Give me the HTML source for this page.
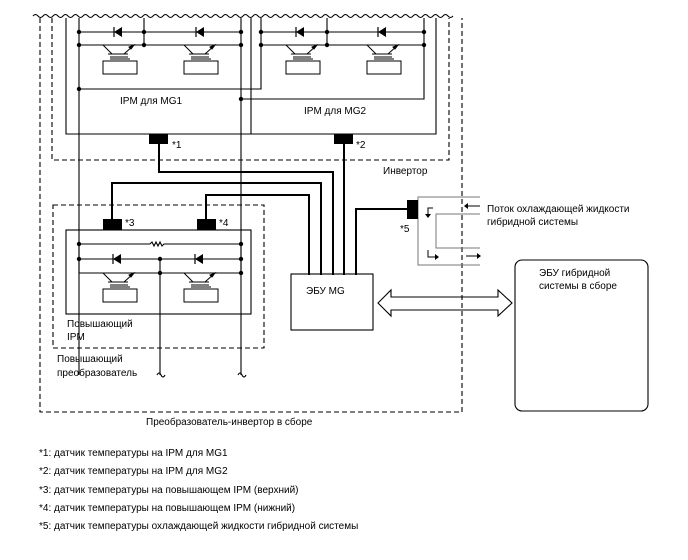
<!DOCTYPE html>
<html><head><meta charset="utf-8"><style>
html,body{margin:0;padding:0;background:#fff}
svg{display:block}
text{font-family:"Liberation Sans",Arial,sans-serif;font-size:10px;fill:#000}
</style></head><body>
<svg width="688" height="560" viewBox="0 0 688 560" xmlns="http://www.w3.org/2000/svg">
<defs>
<g id="tr" fill="none" stroke="#000" stroke-width="1">
 <line x1="-17" y1="0" x2="-8" y2="9"/>
 <line x1="-12" y1="9" x2="8" y2="9"/>
 <line x1="4" y1="9" x2="14" y2="0"/>
 <polygon points="14,0 9,2 11,4" fill="#000"/>
 <line x1="-10" y1="12" x2="8" y2="12"/>
 <line x1="-10" y1="14" x2="10" y2="14"/>
 <rect x="-17" y="16" width="34" height="13"/>
</g>
<g id="di">
 <polygon points="-4,0 4,-5 4,5" fill="#000"/>
 <line x1="-4" y1="-5" x2="-4" y2="5" stroke="#000" stroke-width="1.2"/>
</g>
</defs>
<g fill="none" stroke="#000" stroke-width="1">
<path d="M33,16 q2.5,-3 5,0 t5,0 t5,0 t5,0 t5,0 t5,0 t5,0 t5,0 t5,0 t5,0 t5,0 t5,0 t5,0 t5,0 t5,0 t5,0 t5,0 t5,0 t5,0 t5,0 t5,0 t5,0 t5,0 t5,0 t5,0 t5,0 t5,0 t5,0 t5,0 t5,0 t5,0 t5,0 t5,0 t5,0 t5,0 t5,0 t5,0 t5,0 t5,0 t5,0 t5,0 t5,0 t5,0 t5,0 t5,0 t5,0 t5,0 t5,0 t5,0 t5,0 t5,0 t5,0 t5,0 t5,0 t5,0 t5,0 t5,0 t5,0 t5,0 t5,0 t5,0 t5,0 t5,0 t5,0 t5,0 t5,0 t5,0 t5,0 t5,0 t5,0 t5,0 t5,0 t5,0 t5,0 t5,0 t5,0 t5,0 t5,0 t5,0 t5,0 t5,0 t5,0 t5,0 t5,0"/>
</g>
<g fill="none" stroke="#000" stroke-width="1.1" stroke-dasharray="5,3">
 <path d="M40,18 V412 H462 V18"/>
 <path d="M52,18 V160 H449 V18"/>
 <rect x="53" y="205" width="211" height="143"/>
</g>
<g fill="none" stroke="#000" stroke-width="1.1">
 <path d="M66,18 V134 H436 V18"/>
 <path d="M251,18 V134"/>
 <path d="M79,18 V375"/><path d="M241,18 V375"/>
 <path d="M79,32 H241"/><path d="M79,45 H241"/><path d="M144,18 V45"/>
 <path d="M79,89 H261 V18"/>
 <path d="M261,32 H424"/><path d="M261,45 H424"/><path d="M327,18 V45"/>
 <path d="M241,99 H424 V18"/>
 <path d="M159,144 V172 H333 V275" stroke-width="2"/>
 <path d="M344,144 V275" stroke-width="2"/>
 <path d="M112,220 V183 H321 V275" stroke-width="2"/>
 <path d="M206,220 V195 H309 V275" stroke-width="2"/>
 <path d="M356,275 V209 H408" stroke-width="2"/>
 <rect x="66" y="230" width="185" height="84"/>
 <path d="M79,244 H150 l2,-2 2,4 2,-4 2,4 2,-4 2,4 2,-2 H241"/>
 <path d="M79,244 V273 H241"/><path d="M79,259 H241"/><path d="M241,244 V273"/>
 <path d="M160,259 V375"/>
 <path d="M157,375 q2,-4 4,0 t4,0" /><path d="M238,375 q2,-4 4,0 t4,0"/>
 <rect x="291" y="274" width="82" height="56"/>
 <rect x="515" y="260" width="133" height="151" rx="7"/>
 <path d="M378,303 L391,290 V297 H498 V290 L512,303 L498,316 V310 H391 V316 Z"/>
</g>
<g fill="none" stroke="#777" stroke-width="1">
 <path d="M480,197 H418 V265 H480"/>
 <path d="M480,214 H436 V248 H480"/>
</g>
<g fill="none" stroke="#000" stroke-width="1">
 <path d="M433,208 H428 V215"/><path d="M428,250 V257 H436"/>
 <path d="M468,206 H480"/><path d="M466,256 H478"/>
</g>
<g fill="#000">
 <polygon points="425,214 431,214 428,218"/><polygon points="435,254 435,260 439,257"/>
 <polygon points="464,206 468,203 468,209"/><polygon points="481,256 477,253 477,259"/>
 <rect x="149" y="134" width="19" height="10"/>
 <rect x="334" y="134" width="19" height="10"/>
 <rect x="103" y="219" width="19" height="11"/>
 <rect x="197" y="219" width="19" height="11"/>
 <rect x="407" y="200" width="11" height="19"/>
 <circle cx="79" cy="32" r="2.2"/><circle cx="144" cy="32" r="2.2"/><circle cx="241" cy="32" r="2.2"/>
 <circle cx="79" cy="45" r="2.2"/><circle cx="144" cy="45" r="2.2"/><circle cx="241" cy="45" r="2.2"/>
 <circle cx="261" cy="32" r="2.2"/><circle cx="327" cy="32" r="2.2"/><circle cx="424" cy="32" r="2.2"/>
 <circle cx="261" cy="45" r="2.2"/><circle cx="327" cy="45" r="2.2"/><circle cx="424" cy="45" r="2.2"/>
 <circle cx="79" cy="89" r="2.2"/><circle cx="241" cy="99" r="2.2"/>
 <circle cx="79" cy="244" r="2.2"/><circle cx="241" cy="244" r="2.2"/>
 <circle cx="79" cy="259" r="2.2"/><circle cx="160" cy="259" r="2.2"/><circle cx="241" cy="259" r="2.2"/>
 <circle cx="160" cy="273" r="2.2"/><circle cx="241" cy="273" r="2.2"/>
</g>
<use href="#di" x="118" y="32"/><use href="#di" x="200" y="32"/>
<use href="#di" x="300" y="32"/><use href="#di" x="382" y="32"/>
<use href="#di" x="117" y="259"/><use href="#di" x="199" y="259"/>
<use href="#tr" x="120" y="45"/><use href="#tr" x="201" y="45"/>
<use href="#tr" x="303" y="45"/><use href="#tr" x="384" y="45"/>
<use href="#tr" x="120" y="273"/><use href="#tr" x="201" y="273"/>

<text x="120" y="104">IPM для MG1</text>
<text x="304" y="114">IPM для MG2</text>
<text x="172" y="148">*1</text>
<text x="356" y="148">*2</text>
<text x="383" y="174">Инвертор</text>
<text x="125" y="226">*3</text>
<text x="219" y="226">*4</text>
<text x="400" y="232">*5</text>
<text x="487" y="212">Поток охлаждающей жидкости</text>
<text x="487" y="225">гибридной системы</text>
<text x="306" y="294">ЭБУ MG</text>
<text x="539" y="276">ЭБУ гибридной</text>
<text x="539" y="289">системы в сборе</text>
<text x="67" y="327">Повышающий</text>
<text x="67" y="340">IPM</text>
<text x="57" y="362">Повышающий</text>
<text x="57" y="376">преобразователь</text>
<text x="146" y="425">Преобразователь-инвертор в сборе</text>
<text x="39" y="456" font-size="9.5">*1: датчик температуры на IPM для MG1</text>
<text x="39" y="474" font-size="9.5">*2: датчик температуры на IPM для MG2</text>
<text x="39" y="493" font-size="9.5">*3: датчик температуры на повышающем IPM (верхний)</text>
<text x="39" y="511" font-size="9.5">*4: датчик температуры на повышающем IPM (нижний)</text>
<text x="39" y="529" font-size="9.5">*5: датчик температуры охлаждающей жидкости гибридной системы</text>
</svg>
</body></html>
